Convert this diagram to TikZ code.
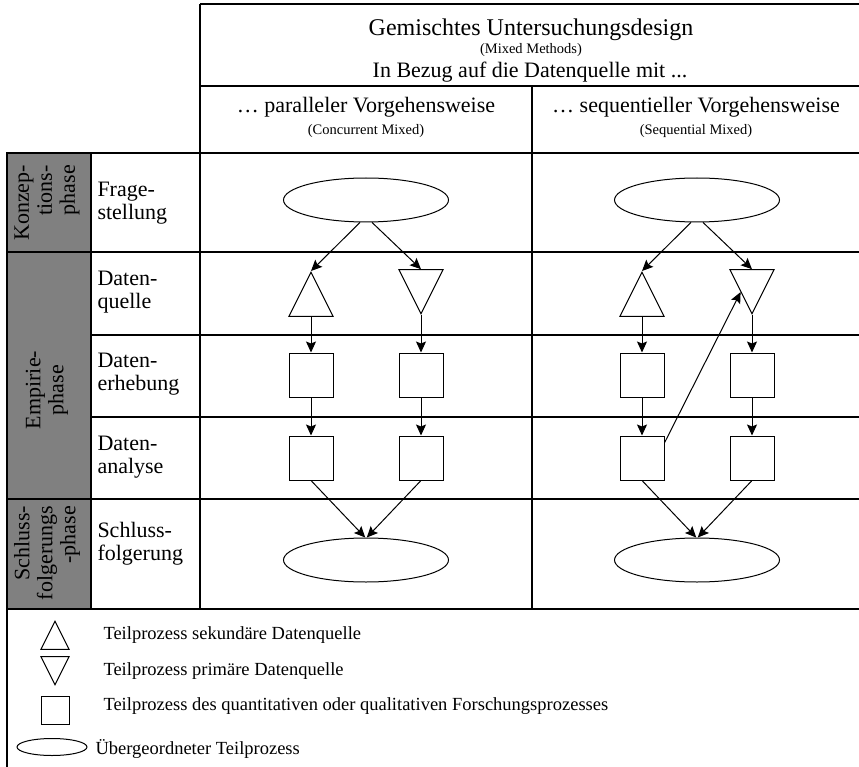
\documentclass[tikz,border=0pt]{standalone}
\usepackage{fontspec}
\setmainfont{Liberation Serif}
\usetikzlibrary{calc,shapes.geometric,arrows.meta}

\begin{document}
\begin{tikzpicture}[x=1pt,y=-1pt,line width=1pt,>={Stealth[length=11pt,width=10pt,inset=2pt]}]
    \tikzstyle{up node}=[draw,isosceles triangle,isosceles triangle stretches,shape border rotate=90,minimum width=44pt,minimum height=44pt,inner sep=0,anchor=apex]
    \tikzstyle{down node}=[up node,shape border rotate=270]
    \tikzstyle{box node}=[draw,rectangle,minimum size=44pt,inner sep=0]
    \tikzstyle{oval node}=[draw,ellipse,minimum width=165pt,minimum height=44pt,inner sep=0]
    \tikzstyle{big text}=[inner sep=0,font=\fontsize{22}{23}\selectfont]
    \tikzstyle{small text}=[inner sep=0,anchor=base,font=\fontsize{14.5}{16}\selectfont]
    \tikzstyle{phase text}=[inner sep=0,rotate=90,font=\fontsize{22}{23}\selectfont]
    \tikzstyle{row text}=[big text,anchor=west,align=left]
    \tikzstyle{legend text}=[inner sep=0,anchor=base west,font=\fontsize{18.5}{20}\selectfont]
    \tikzstyle{table line}=[line width=1.2pt]
    \useasboundingbox (0,0) rectangle (859,767);

% phase column
\fill[black!50] (7,153) rectangle (91,609);
\draw[table line] (7,153) rectangle (91,252);
\draw[table line] (7,252) rectangle (91,499);
\draw[table line] (7,499) rectangle (91,609);
\node(ph1)[phase text,align=right] at (47,203) {Konzep-\\tions-\\phase};
\node(ph2)[phase text,align=center] at (47,390) {Empirie-\\phase};
\node(ph3)[phase text,align=right] at (47,553) {Schluss-\\folgerungs\\-phase};

% table
\draw[table line] (200,4) -- (859,4);
\draw[table line] (200,86) -- (859,86);
\draw[table line] (91,153) -- (859,153);
\draw[table line] (91,252) -- (859,252);
\draw[table line] (91,335) -- (859,335);
\draw[table line] (91,417) -- (859,417);
\draw[table line] (91,499) -- (859,499);
\draw[table line] (7,609) -- (859,609);
\draw[table line] (200,4) -- (200,609);
\draw[table line] (532,86) -- (532,609);
\draw[table line] (91,153) -- (91,609);
\draw[table line] (7,153) -- (7,767);

% header
\node(title)[big text,anchor=base,font=\fontsize{24}{26}\selectfont] at (531,36) {Gemischtes Untersuchungsdesign};
\node(mm)[small text] at (531,54) {(Mixed Methods)};
\node(bezug)[big text,anchor=base] at (530,78) {In Bezug auf die Datenquelle mit ...};
\node(par)[big text,anchor=base] at (366,113) {… paralleler Vorgehensweise};
\node(cm)[small text] at (366,135) {(Concurrent Mixed)};
\node(seq)[big text,anchor=base] at (696,113) {… sequentieller Vorgehensweise};
\node(sm)[small text] at (696,135) {(Sequential Mixed)};

% row labels
\node(r1)[row text] at (97,203) {Frage-\\stellung};
\node(r2)[row text] at (97,292) {Daten-\\quelle};
\node(r3)[row text] at (97,374) {Daten-\\erhebung};
\node(r4)[row text] at (97,457) {Daten-\\analyse};
\node(r5)[row text] at (97,544) {Schluss-\\folgerung};

% concurrent mixed
\node(fL)[oval node] at (366,200) {};
\node(qL1)[up node] at (311,271) {};
\node(qL2)[down node] at (421,315) {};
\node(eL1)[box node] at (311,375) {};
\node(eL2)[box node] at (421,375) {};
\node(aL1)[box node] at (311,458) {};
\node(aL2)[box node] at (421,458) {};
\node(sL)[oval node] at (366,560) {};
\draw[->] (fL.255) -- (qL1.apex);
\draw[->] (fL.285) -- (qL2.lower side);
\draw[->] (qL1.lower side) -- (eL1.north);
\draw[->] (qL2.apex) -- (eL2.north);
\draw[->] (eL1.south) -- (aL1.north);
\draw[->] (eL2.south) -- (aL2.north);
\draw[->] (aL1.south) -- (sL.92);
\draw[->] (aL2.south) -- (sL.88);

% sequential mixed
\node(fR)[oval node] at (697,200) {};
\node(qR1)[up node] at (642,271) {};
\node(qR2)[down node] at (752,315) {};
\node(eR1)[box node] at (642,375) {};
\node(eR2)[box node] at (752,375) {};
\node(aR1)[box node] at (642,458) {};
\node(aR2)[box node] at (752,458) {};
\node(sR)[oval node] at (697,560) {};
\draw[->] (fR.255) -- (qR1.apex);
\draw[->] (fR.285) -- (qR2.lower side);
\draw[->] (qR1.lower side) -- (eR1.north);
\draw[->] (qR2.apex) -- (eR2.north);
\draw[->] (eR1.south) -- (aR1.north);
\draw[->] (eR2.south) -- (aR2.north);
\draw[->] (aR1.south) -- (sR.92);
\draw[->] (aR2.south) -- (sR.88);
\draw[->] (aR1.34) -- (qR2.right side);

% legend
\node(k1)[up node,minimum width=28pt,minimum height=28pt] at (55,620) {};
\node(k2)[down node,minimum width=28pt,minimum height=28pt] at (55,686) {};
\node(k3)[box node,minimum size=28pt] at (55,710.5) {};
\node(k4)[oval node,minimum width=70pt,minimum height=17pt] at (52,747) {};
\node(t1)[legend text] at (103,639) {Teilprozess sekundäre Datenquelle};
\node(t2)[legend text] at (103,675) {Teilprozess primäre Datenquelle};
\node(t3)[legend text] at (103,710) {Teilprozess des quantitativen oder qualitativen Forschungsprozesses};
\node(t4)[legend text] at (95,754) {Übergeordneter Teilprozess};
\end{tikzpicture}
\end{document}
